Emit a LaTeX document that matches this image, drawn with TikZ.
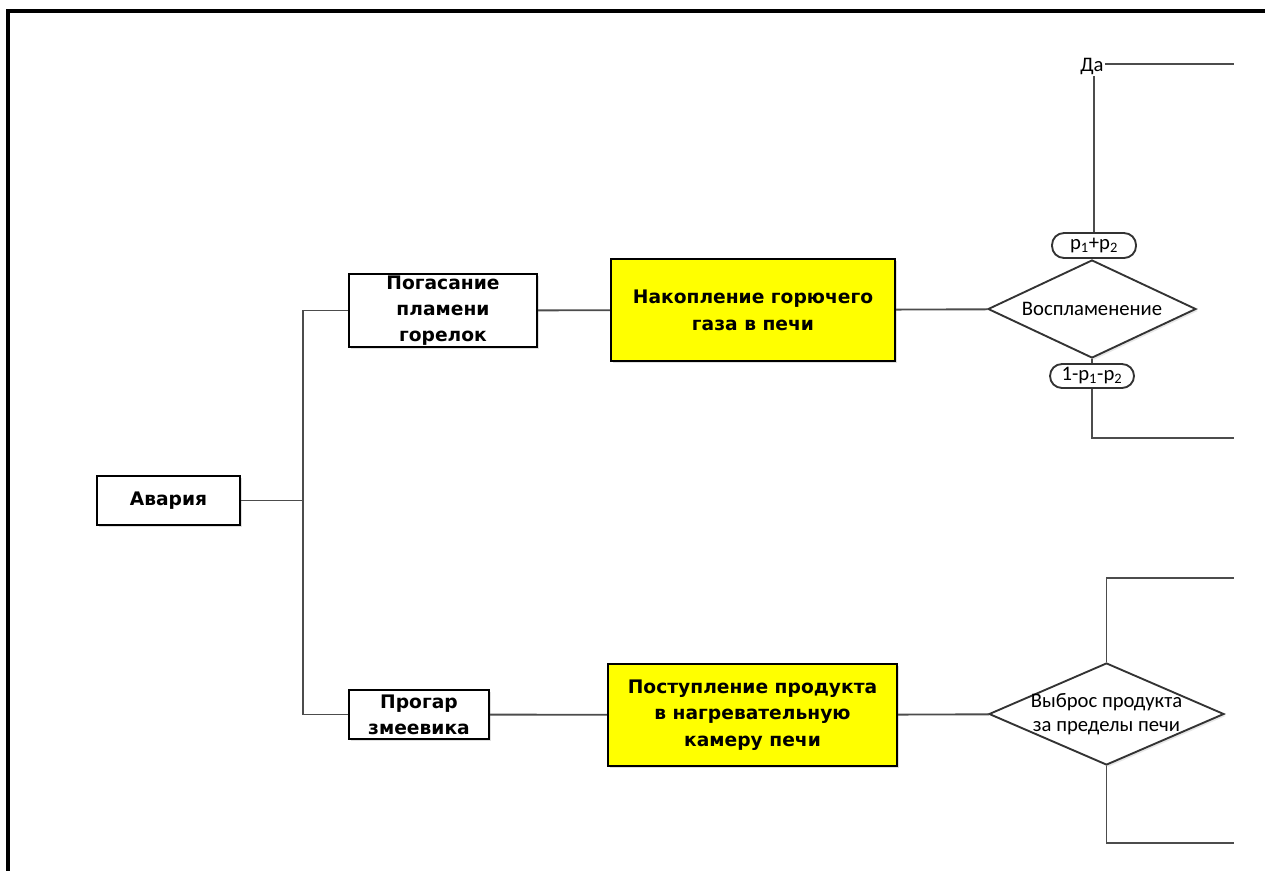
\documentclass[tikz,border=0pt]{standalone}
\usepackage{fontspec}
\setmainfont{DejaVu Sans}
\newfontfamily\calib{Carlito}
\usepackage{tikz}
\usetikzlibrary{shapes.geometric, shadows}

\newlength{\pxu}
\setlength{\pxu}{0.75pt}

\definecolor{hazardyellow}{RGB}{255,255,0}

\tikzset{
  box/.style={draw=black, line width=1.6pt, fill=white, inner sep=0pt, align=center,
    font=\bfseries\fontsize{14}{19.5}\selectfont,
    drop shadow={shadow xshift=1.5pt, shadow yshift=-1.5pt, opacity=0.25}},
  hazard/.style={box, fill=hazardyellow, font=\bfseries\fontsize{14}{20}\selectfont},
  decision/.style={diamond, draw=black!80, line width=1.4pt, fill=white, inner sep=0pt,
    drop shadow={shadow xshift=1.5pt, shadow yshift=-1.5pt, opacity=0.2}},
  dtext/.style={font=\calib\fontsize{15.5}{18}\selectfont, align=center},
  prob/.style={draw=black!80, line width=1.4pt, fill=white, rounded corners=12\pxu,
    inner sep=0pt, font=\calib\fontsize{15.5}{18}\selectfont},
  link/.style={draw=black!70, line width=1.4pt}
}

\begin{document}
\begin{tikzpicture}[x=\pxu, y=-\pxu]
      \useasboundingbox (0,0) rectangle (1265,871);

      % Frame
      \draw[line width=2.6pt] (8,871) -- (8,11) -- (1265,11);

      % Define the nodes
      \node[box, minimum width=143\pxu, minimum height=49\pxu] (avaria) at (168.5,500.5) {Авария};
      \node[box, minimum width=188\pxu, minimum height=73\pxu] (pogas) at (443,310.5) {Погасание\\пламени\\горелок};
      \node[box, minimum width=140\pxu, minimum height=49\pxu] (progar) at (419,714.5) {Прогар\\змеевика};
      \node[hazard, minimum width=284\pxu, minimum height=102\pxu] (nakopl) at (753,310) {Накопление горючего\\газа в печи};
      \node[hazard, minimum width=289\pxu, minimum height=102\pxu] (postup) at (752.5,715) {Поступление продукта\\в нагревательную\\камеру печи};

      \node[decision, minimum width=208\pxu, minimum height=98\pxu,
        label={[dtext]center:Воспламенение}] (vospl) at (1092,309) {};
      \node[decision, minimum width=235\pxu, minimum height=102\pxu,
        label={[dtext]center:Выброс продукта\\за пределы печи}] (vybros) at (1106.5,714) {};

      \node[prob, minimum width=84\pxu, minimum height=25\pxu] (pyes) at (1094,245.5) {p\textsubscript{1}+p\textsubscript{2}};
      \node[prob, minimum width=84\pxu, minimum height=24\pxu] (pno) at (1092,376) {1-p\textsubscript{1}-p\textsubscript{2}};
      \node[dtext, inner sep=1pt] (da) at (1092,66.5) {Да};

      % Free ends
      \coordinate (split) at (303,500.5);
      \coordinate (daend) at (1234,64);
      \coordinate (noend) at (1234,438);
      \coordinate (vtop) at (1234,578);
      \coordinate (vbot) at (1234,843);

      % Draw the connectors
      \draw[link] (avaria) -- (split);
      \draw[link] (split) |- (pogas.west);
      \draw[link] (split) |- (progar.west);
      \draw[link] (pogas) -- (nakopl);
      \draw[link] (nakopl) -- (vospl);
      \draw[link] (progar) -- (postup);
      \draw[link] (postup) -- (vybros);
      \draw[link] (vospl.south) -- (pno.north);
      \draw[link] (pyes.north) -- (pyes.north |- da.south);
      \draw[link] (da.east |- daend) -- (daend);
      \draw[link] (pno.south) |- (noend);
      \draw[link] (vybros.north) |- (vtop);
      \draw[link] (vybros.south) |- (vbot);
\end{tikzpicture}
\end{document}
